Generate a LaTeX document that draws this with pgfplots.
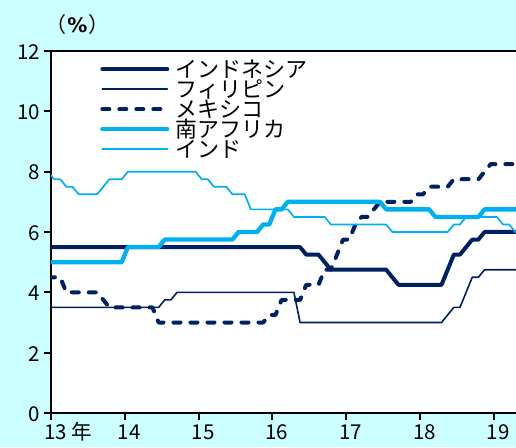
\documentclass[border=0pt]{standalone}
\usepackage{pgfplots}
\pgfplotsset{compat=1.18}
\usepackage{fontspec}
\setmainfont{Noto Sans CJK JP}
\newfontfamily\dv{DejaVu Sans}
\definecolor{bgc}{HTML}{CCFFFF}
\definecolor{navy}{HTML}{002060}
\definecolor{lblue}{HTML}{00B0F0}
\begin{document}
\begin{tikzpicture}
\fill[bgc] (-51pt,-34pt) rectangle (465pt,413pt);
\begin{axis}[
  at={(0pt,0pt)}, anchor=south west,
  scale only axis, width=467.4pt, height=362pt,
  xmin=0, xmax=76, ymin=0, ymax=12,
  axis background/.style={fill=white},
  axis line style={line width=2.8pt, black},
  tick align=outside, xtick pos=bottom, ytick pos=left,
  major tick length=7pt,
  tick style={line width=2pt, black},
  xtick={0,12,24,36,48,60,72},
  xticklabels={13 年,14,15,16,17,18,19},
  ytick={0,2,4,6,8,10,12},
  /pgf/number format/assume math mode=true,
  yticklabel style={font=\fontsize{20.5}{20.5}\selectfont, inner sep=0pt, anchor=east, xshift=-3.5pt, yshift=-1pt},
  xticklabel style={font=\fontsize{20.5}{20.5}\selectfont, inner sep=0pt, anchor=north west, text height=15pt, xshift=-7pt, yshift=-4pt},
  legend style={draw=none, fill=none, at={(axis description cs:0.1048,0.9657)}, anchor=north west,
    inner sep=0pt, row sep=0pt, font=\fontsize{22}{22}\selectfont,
    nodes={inner sep=0pt, text height=14pt, text depth=6pt},
    /tikz/every odd column/.append style={column sep=6pt}},
  legend cell align=left,
  legend image code/.code={\draw[#1] (0pt,4.4pt) -- (65pt,4.4pt);},
  every axis plot/.append style={line join=round, line cap=round},
]
% Indonesia
\addplot[navy, line width=4pt] coordinates {
(-0.5,5.5) (40.5,5.5) (41.5,5.25) (43.5,5.25) (44.5,5.0) (45.5,4.75) (54.5,4.75)
(55.5,4.5) (56.5,4.25) (63.5,4.25) (64.5,4.75) (65.5,5.25) (66.5,5.25) (67.5,5.5)
(68.5,5.75) (69.5,5.75) (70.5,6.0) (76.5,6.0)};
\addlegendentry{インドネシア}
% Philippines
\addplot[navy, line width=1.6pt] coordinates {
(-0.5,3.5) (17.5,3.5) (18.5,3.75) (19.5,3.75) (20.5,4.0) (39.5,4.0) (40.5,3.0)
(63.5,3.0) (64.5,3.25) (65.5,3.5) (66.5,3.5) (67.5,4.0) (68.5,4.5) (69.5,4.5)
(70.5,4.75) (76.5,4.75)};
\addlegendentry{フィリピン}
% Mexico
\addplot[navy, line width=4pt, dash pattern=on 7pt off 10pt] coordinates {
(-0.5,4.5) (1.5,4.5) (2.5,4.0) (7.5,4.0) (8.5,3.75) (9.5,3.5) (16.5,3.5) (17.5,3.0)
(34.5,3.0) (35.5,3.25) (36.5,3.25) (37.5,3.75) (40.5,3.75) (41.5,4.25) (43.5,4.25)
(44.5,4.75) (45.5,4.75) (46.5,5.25) (47.5,5.75) (48.5,5.75) (49.5,6.25) (50.5,6.5)
(51.5,6.5) (52.5,6.75) (53.5,7.0) (58.5,7.0) (59.5,7.25) (60.5,7.25) (61.5,7.5)
(64.5,7.5) (65.5,7.75) (69.5,7.75) (70.5,8.0) (71.5,8.25) (76.5,8.25)};
\addlegendentry{メキシコ}
% South Africa
\addplot[lblue, line width=4.3pt] coordinates {
(-0.5,5.0) (11.5,5.0) (12.5,5.5) (17.5,5.5) (18.5,5.75) (29.5,5.75) (30.5,6.0)
(33.5,6.0) (34.5,6.25) (35.5,6.25) (36.5,6.75) (37.5,6.75) (38.5,7.0) (53.5,7.0)
(54.5,6.75) (61.5,6.75) (62.5,6.5) (69.5,6.5) (70.5,6.75) (76.5,6.75)};
\addlegendentry{南アフリカ}
% India
\addplot[lblue, line width=1.7pt] coordinates {
(-0.5,8.0) (0.5,7.75) (1.5,7.75) (2.5,7.5) (3.5,7.5) (4.5,7.25) (7.5,7.25) (8.5,7.5)
(9.5,7.75) (11.5,7.75) (12.5,8.0) (23.5,8.0) (24.5,7.75) (25.5,7.75) (26.5,7.5)
(28.5,7.5) (29.5,7.25) (31.5,7.25) (32.5,6.75) (38.5,6.75) (39.5,6.5) (44.5,6.5)
(45.5,6.25) (54.5,6.25) (55.5,6.0) (64.5,6.0) (65.5,6.25) (66.5,6.25) (67.5,6.5)
(72.5,6.5) (73.5,6.25) (74.5,6.25) (75.5,6.0) (76.5,6.0)};
\addlegendentry{インド}
\end{axis}
\node[font=\fontsize{21}{21}\selectfont, inner sep=0pt] at (26.5pt,388pt) {（\kern1pt{\dv\bfseries\fontsize{20}{20}\selectfont\%}\kern1pt）};
\pgfresetboundingbox
\useasboundingbox (-51pt,-34pt) rectangle (465pt,413pt);
\end{tikzpicture}
\end{document}
